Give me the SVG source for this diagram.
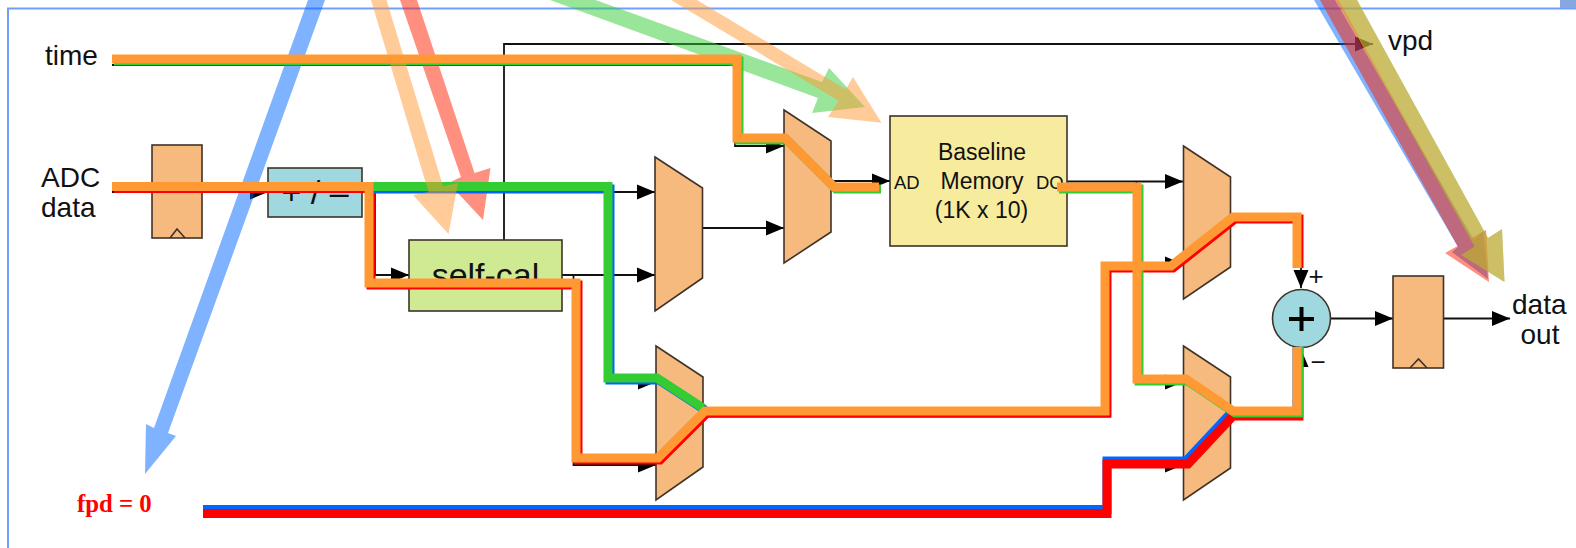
<svg xmlns="http://www.w3.org/2000/svg" width="1576" height="548" viewBox="0 0 1576 548">
<style>
text{font-family:"Liberation Sans",Arial,sans-serif;fill:#111}
.t28{font-size:28px}.t23{font-size:23px}.t19{font-size:18.5px}
.shape{stroke:#3f3328;stroke-width:1.6}
.orangebox{fill:#f7ba7e}.bluebox{fill:#a0d8e0}
.wire{fill:none;stroke:#111;stroke-width:1.8}
.r{fill:none;stroke-width:9;stroke-linejoin:miter}
.or{stroke:#ff9933}.re{stroke:#ff0000}.gr{stroke:#33cc33}.bl{stroke:#0066ff}
.pb{fill:#0066ff;opacity:.5}.pr{fill:#ff2000;opacity:.5}.pg{fill:#33cc33;opacity:.5}.po{fill:#ff9933;opacity:.5}
</style>
<defs>
<marker id="a" markerUnits="userSpaceOnUse" markerWidth="19" markerHeight="16" refX="18" refY="8" orient="auto"><path d="M0,0.500L18,8L0,15.500z" fill="#000"/></marker>
</defs>
<rect id="frame" x="8" y="8.5" width="1600" height="600" fill="none" stroke="#6f9fff" stroke-width="2"/>
<rect id="corner" x="1560" y="0" width="16" height="8" fill="#86a8e0"/>
<g id="connectors">
<path class="wire" d="M504,240V44H1373" marker-end="url(#a)"/>
<path class="wire" d="M112,192H268" marker-end="url(#a)"/>
<path class="wire" d="M362,192H655" marker-end="url(#a)"/>
<path class="wire" d="M375,192V275H409" marker-end="url(#a)"/>
<path class="wire" d="M562,275H655" marker-end="url(#a)"/>
<path class="wire" d="M573.500,275V465H656" marker-end="url(#a)"/>
<path class="wire" d="M610,192V382H656" marker-end="url(#a)"/>
<path class="wire" d="M702,228H784" marker-end="url(#a)"/>
<path class="wire" d="M112,65H735V146H784" marker-end="url(#a)"/>
<path class="wire" d="M831,181H890" marker-end="url(#a)"/>
<path class="wire" d="M1067,181.500H1183" marker-end="url(#a)"/>
<path class="wire" d="M1136.500,181.500V382H1183" marker-end="url(#a)"/>
<path class="wire" d="M703,416.500H1110V264H1183" marker-end="url(#a)"/>
<path class="wire" d="M203,515H1110V465H1183" marker-end="url(#a)"/>
<path class="wire" d="M1231,218H1301V288" marker-end="url(#a)"/>
<path class="wire" d="M1231,414H1301V349" marker-end="url(#a)"/>
<path class="wire" d="M1331,318.500H1393" marker-end="url(#a)"/>
<path class="wire" d="M1443,318.500H1510" marker-end="url(#a)"/>
</g>
<g id="reg1"><rect class="shape orangebox" x="152" y="145" width="50" height="93"/><path class="shape" fill="none" d="M170,238L177,229L185,238"/></g>
<g id="addsub"><rect class="shape bluebox" x="268" y="168" width="94" height="49"/><text x="315" y="203.500" text-anchor="middle" style="font-size:34px">+ / –</text></g>
<g id="selfcal"><rect class="shape" fill="#d0ea94" x="409" y="240" width="153" height="71"/><text x="485.500" y="287" text-anchor="middle" style="font-size:34px">self-cal</text></g>
<g id="mux1"><path class="shape orangebox" d="M655,157L702.500,188V278L655,311z"/></g>
<g id="mux2"><path class="shape orangebox" d="M784,110L831,141V232L784,263z"/></g>
<g id="mux3"><path class="shape orangebox" d="M656,346L703,377V467L656,500z"/></g>
<g id="mux4"><path class="shape orangebox" d="M1183.500,146L1230.500,177V267L1183.500,299z"/></g>
<g id="mux5"><path class="shape orangebox" d="M1183.500,346L1230.500,377V468L1183.500,500z"/></g>
<g id="memory"><rect class="shape" fill="#f7eb9e" x="890" y="116" width="177" height="130"/>
<text class="t23" x="982" y="160" text-anchor="middle">Baseline</text>
<text class="t23" x="982" y="189" text-anchor="middle">Memory</text>
<text class="t23" x="981.500" y="218" text-anchor="middle">(1K x 10)</text>
<text class="t19" x="894" y="189">AD</text>
<text class="t19" x="1036" y="189">DO</text></g>
<g id="adder"><circle class="shape bluebox" cx="1301.500" cy="318.500" r="29"/><path d="M1289,319H1314M1301.500,307V331" stroke="#000" stroke-width="4" fill="none"/></g>
<g id="reg2"><rect class="shape orangebox" x="1393" y="276" width="50.500" height="92"/><path class="shape" fill="none" d="M1410,368L1418.500,359L1427,368"/></g>
<g id="labels">
<text class="t28" x="45" y="65">time</text>
<text class="t28" x="41" y="187">ADC</text>
<text class="t28" x="41" y="217">data</text>
<text class="t28" x="1388" y="50">vpd</text>
<text class="t28" x="1512" y="314">data</text>
<text class="t28" x="1520.500" y="344">out</text>
<text x="1316" y="285" text-anchor="middle" style="font-size:26px">+</text>
<text x="1318" y="371" text-anchor="middle" style="font-size:26px">−</text>
<text x="77" y="512" style="font-family:'Liberation Serif',serif;font-weight:bold;font-size:24.800px;fill:#f00">fpd = 0</text>
</g>
<g id="callouts-under">
<path class="pb" d="M308,0H325L168,433L176,436L145,474L146,424L154,428z"/>
<path class="pr" d="M400,0H417L474.500,173L490.500,168L483,220L448.500,183L461,177z"/>
<path class="pg" d="M550,0H595.500L822,82L829,68L865,107L812,113L818,98z"/>
<path class="pb" d="M1314,0H1335L1474,240L1483,231L1488,279L1452,252L1458,247z"/>
<path class="pr" d="M1320,0H1338.500L1471.500,238L1486,230L1489,282L1445,253L1457.500,246z"/>
<path class="pg" d="M1337,0H1357L1488,238L1502,229L1504.500,282L1461,255L1474.500,246.500z"/>
</g>
<g id="routes">
<path class="r gr" d="M114,61H739V140H787L836,189H881"/>
<path class="r re" d="M114,188.500H371V285H578V460H660L707,413H1107V268H1173L1235,219H1299V268"/>
<path class="r bl" d="M371,189H610V380H659L705,410"/>
<path class="r gr" d="M369,186.500H608V378H657L703,408"/>
<path class="r bl" d="M203,509.500H1107V461H1186L1231,413H1297V347"/>
<path class="r re" d="M203,513.500H1107V464H1188L1233,416H1299V347"/>
<path class="r gr" d="M1059,189H1139V381H1188L1235,413H1299V347"/>
<path class="r or" d="M112,59H737V138H785L834,187H879"/>
<path class="r or" d="M112,186.500H369V283H576V458H658L705,411H1105V266H1171L1233,217H1297V268"/>
<path class="r or" d="M1057,187H1137V379H1186L1233,411H1297V347"/>
</g>
<g id="callouts-over">
<path class="po" d="M371,0H386.500L443,186L458,183L448.500,234L413,195L428.500,192z"/>
<path class="po" d="M671,0H697L845.700,89.500L853,77L881.500,122.700L828,117L838.700,100.700z"/>
<path class="po" d="M1337,0H1357L1488,238L1502,229L1504.500,282L1461,255L1474.500,246.500z"/>
</g>
</svg>
